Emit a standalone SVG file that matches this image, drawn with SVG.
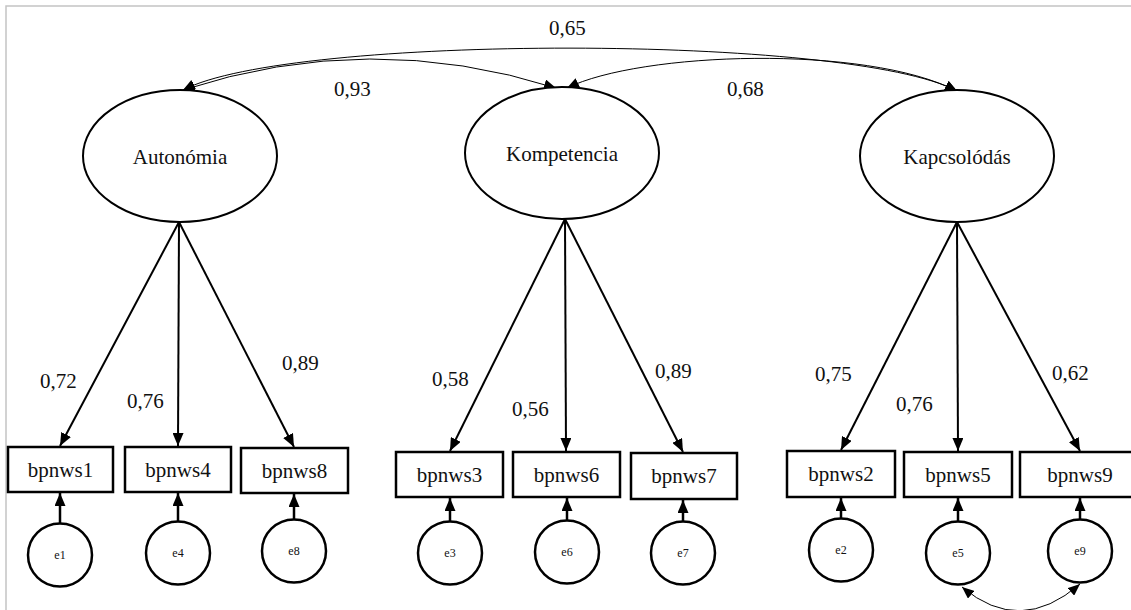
<svg xmlns="http://www.w3.org/2000/svg" width="1131" height="610" viewBox="0 0 1131 610" font-family="'Liberation Serif', 'Times New Roman', Tinos, serif">
  <defs>
    <style>
      .frame { stroke: #c4c4c4; stroke-width: 1.5; fill: none; }
      .latent { fill: #ffffff; stroke: #000; stroke-width: 2; }
      .obs { fill: #ffffff; stroke: #000; stroke-width: 2.5; }
      .err { fill: #ffffff; stroke: #000; stroke-width: 2.5; }
      .load { stroke: #000; stroke-width: 2; fill: none; marker-end: url(#headBig); }
      .eload { stroke: #000; stroke-width: 2.5; fill: none; marker-end: url(#headBig); }
      .cov { stroke: #000; stroke-width: 1; fill: none; marker-start: url(#headCov); marker-end: url(#headCov); }
      .lbl { font-size: 21px; text-anchor: middle; fill: #111; }
      .num { font-size: 21px; fill: #111; }
      .elbl { font-size: 12px; text-anchor: middle; fill: #111; }
    </style>
    <marker id="headBig" viewBox="0 0 13 11" refX="13" refY="5.5" markerWidth="13" markerHeight="11" markerUnits="userSpaceOnUse" orient="auto">
      <path d="M0,0 L13,5.5 L0,11 z" fill="#000"/>
    </marker>
    <marker id="headCov" viewBox="0 0 12 10" refX="12" refY="5" markerWidth="12" markerHeight="10" markerUnits="userSpaceOnUse" orient="auto-start-reverse">
      <path d="M0,0 L12,5 L0,10 z" fill="#000"/>
    </marker>
  </defs>

  <rect width="1131" height="610" fill="#ffffff"/>
  <path class="frame" d="M6,610 V6 H1131"/>

  <!-- connectors -->
  <g id="connectors">
    <!-- covariances between factors -->
    <path class="cov" d="M183,90 C290,34 850,34 957,91"/>
    <path class="cov" d="M183,90 Q370,29 556,88"/>
    <path class="cov" d="M567,88 C640,52 865,44 957,91"/>
    <!-- factor loadings -->
    <line class="load" x1="179" y1="222" x2="60" y2="446"/>
    <line class="load" x1="179" y1="222" x2="178" y2="446"/>
    <line class="load" x1="179" y1="222" x2="294" y2="447"/>
    <line class="load" x1="565" y1="219" x2="450" y2="451"/>
    <line class="load" x1="565" y1="219" x2="566" y2="451"/>
    <line class="load" x1="565" y1="219" x2="683" y2="452"/>
    <line class="load" x1="957" y1="222" x2="841" y2="450"/>
    <line class="load" x1="957" y1="222" x2="958" y2="451"/>
    <line class="load" x1="957" y1="222" x2="1080" y2="451"/>
    <!-- error terms -->
    <line class="eload" x1="60" y1="523" x2="60" y2="493"/>
    <line class="eload" x1="178" y1="521" x2="178" y2="493"/>
    <line class="eload" x1="294" y1="519" x2="294" y2="494"/>
    <line class="eload" x1="450" y1="521" x2="450" y2="498"/>
    <line class="eload" x1="567" y1="520" x2="567" y2="498"/>
    <line class="eload" x1="683" y1="521" x2="683" y2="500"/>
    <line class="eload" x1="841" y1="518" x2="841" y2="498"/>
    <line class="eload" x1="958" y1="521" x2="958" y2="498"/>
    <line class="eload" x1="1080" y1="519" x2="1080" y2="498"/>
    <!-- residual covariance e5-e9 -->
    <path class="cov" d="M962,587 Q1020,636 1080,584"/>
  </g>

  <!-- coefficients -->
  <g id="coefficients" class="num">
    <text x="549" y="35">0,65</text>
    <text x="334" y="96">0,93</text>
    <text x="727" y="96">0,68</text>
    <text x="40" y="388">0,72</text>
    <text x="127" y="408">0,76</text>
    <text x="282" y="370">0,89</text>
    <text x="432" y="386">0,58</text>
    <text x="512" y="416">0,56</text>
    <text x="655" y="378">0,89</text>
    <text x="815" y="381">0,75</text>
    <text x="896" y="411">0,76</text>
    <text x="1052" y="380">0,62</text>
  </g>

  <!-- latent factors -->
  <g id="autonomia">
    <ellipse class="latent" cx="180" cy="156" rx="97" ry="66"/>
    <text class="lbl" x="180" y="164">Autonómia</text>
  </g>
  <g id="kompetencia">
    <ellipse class="latent" cx="562" cy="153" rx="97" ry="66"/>
    <text class="lbl" x="562" y="161">Kompetencia</text>
  </g>
  <g id="kapcsolodas">
    <ellipse class="latent" cx="957" cy="156" rx="97" ry="66"/>
    <text class="lbl" x="957" y="164">Kapcsolódás</text>
  </g>

  <!-- observed items -->
  <g id="bpnws1"><rect class="obs" x="8" y="447" width="105" height="45"/><text class="lbl" x="60.5" y="477">bpnws1</text></g>
  <g id="bpnws4"><rect class="obs" x="125" y="447" width="106" height="45"/><text class="lbl" x="178" y="477">bpnws4</text></g>
  <g id="bpnws8"><rect class="obs" x="241" y="448" width="107" height="45"/><text class="lbl" x="294.5" y="478">bpnws8</text></g>
  <g id="bpnws3"><rect class="obs" x="396" y="452" width="107" height="45"/><text class="lbl" x="449.5" y="482">bpnws3</text></g>
  <g id="bpnws6"><rect class="obs" x="513" y="452" width="107" height="45"/><text class="lbl" x="566.5" y="482">bpnws6</text></g>
  <g id="bpnws7"><rect class="obs" x="631" y="453" width="106" height="46"/><text class="lbl" x="684" y="483">bpnws7</text></g>
  <g id="bpnws2"><rect class="obs" x="787" y="451" width="108" height="46"/><text class="lbl" x="841" y="481">bpnws2</text></g>
  <g id="bpnws5"><rect class="obs" x="904" y="452" width="108" height="45"/><text class="lbl" x="958" y="482">bpnws5</text></g>
  <g id="bpnws9"><rect class="obs" x="1020" y="452" width="120" height="45"/><text class="lbl" x="1080" y="482">bpnws9</text></g>

  <!-- error terms -->
  <g id="e1"><ellipse class="err" cx="60" cy="555" rx="32" ry="31.5"/><text class="elbl" x="60" y="559">e1</text></g>
  <g id="e4"><ellipse class="err" cx="178" cy="553" rx="32" ry="31.5"/><text class="elbl" x="178" y="557">e4</text></g>
  <g id="e8"><ellipse class="err" cx="294" cy="551" rx="32" ry="31.5"/><text class="elbl" x="294" y="555">e8</text></g>
  <g id="e3"><ellipse class="err" cx="450" cy="553" rx="32" ry="31.5"/><text class="elbl" x="450" y="557">e3</text></g>
  <g id="e6"><ellipse class="err" cx="567" cy="552" rx="32" ry="31.5"/><text class="elbl" x="567" y="556">e6</text></g>
  <g id="e7"><ellipse class="err" cx="683" cy="553" rx="32" ry="31.5"/><text class="elbl" x="683" y="557">e7</text></g>
  <g id="e2"><ellipse class="err" cx="841" cy="550" rx="32" ry="31.5"/><text class="elbl" x="841" y="554">e2</text></g>
  <g id="e5"><ellipse class="err" cx="958" cy="553" rx="32" ry="31.5"/><text class="elbl" x="958" y="557">e5</text></g>
  <g id="e9"><ellipse class="err" cx="1080" cy="551" rx="32" ry="31.5"/><text class="elbl" x="1080" y="555">e9</text></g>
</svg>
